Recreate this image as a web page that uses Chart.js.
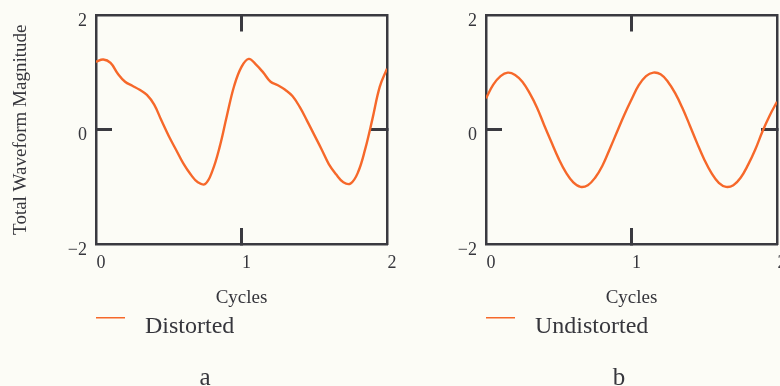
<!DOCTYPE html>
<html>
<head>
<meta charset="utf-8">
<script src="https://cdn.jsdelivr.net/npm/chart.js@4"></script>
<style>
  html, body { margin: 0; padding: 0; background: #fcfcf6; }
  #wrap { position: relative; width: 780px; height: 386px; overflow: hidden; }
  #chart-a { position: absolute; left: 0; top: 0; }
  #chart-b { position: absolute; left: 458px; top: 0; }
</style>
</head>
<body>
<div id="wrap">
  <canvas id="chart-a" width="410" height="386" style="width:410px;height:386px"></canvas>
  <canvas id="chart-b" width="322" height="386" style="width:322px;height:386px"></canvas>
</div>
<script>
const CYCLES = [0, 0.05, 0.1, 0.15, 0.2, 0.25, 0.3, 0.35, 0.4, 0.45, 0.5, 0.55, 0.6, 0.65, 0.7, 0.75, 0.8, 0.85, 0.9, 0.95,
  1, 1.05, 1.1, 1.15, 1.2, 1.25, 1.3, 1.35, 1.4, 1.45, 1.5, 1.55, 1.6, 1.65, 1.7, 1.75, 1.8, 1.85, 1.9, 1.95, 2];
const DISTORTED = [1.19, 1.23, 1.17, 0.98, 0.84, 0.77, 0.70, 0.61, 0.44, 0.16, -0.11, -0.35, -0.59, -0.78, -0.92, -0.95, -0.72, -0.30, 0.25, 0.77,
  1.10, 1.24, 1.14, 1.00, 0.84, 0.78, 0.70, 0.59, 0.40, 0.16, -0.09, -0.34, -0.60, -0.78, -0.92, -0.94, -0.75, -0.34, 0.19, 0.75, 1.07];
const UNDISTORTED = [0.55, 0.79, 0.94, 1.00, 0.96, 0.84, 0.64, 0.39, 0.08, -0.22, -0.51, -0.75, -0.92, -1.00, -0.97, -0.84, -0.63, -0.34, -0.04, 0.26,
  0.53, 0.78, 0.94, 1.00, 0.97, 0.84, 0.64, 0.38, 0.08, -0.23, -0.52, -0.76, -0.93, -1.00, -0.97, -0.84, -0.62, -0.35, -0.03, 0.25, 0.49];
const X_TICKS = [0, 1, 2];
const Y_TICKS = [-2, 0, 2];

const SERIF = "'Liberation Serif', 'Times New Roman', serif";
const INK = '#36363c';
const FRAME = '#3a3a40';
const ORANGE = '#f6682a';

// small picture used as legend marker: line sits near the top of the text
function legendLine(color) {
  const c = document.createElement('canvas');
  c.width = 43; c.height = 21;
  const g = c.getContext('2d');
  g.fillStyle = color;
  g.fillRect(0, 0, 29, 2);
  return c;
}

// pin the axis box size and drop the extra room chart.js keeps for edge labels
function fixSize(prop, value) {
  return (scale) => {
    scale[prop] = value;
    scale.paddingTop = 0; scale.paddingBottom = 0;
    scale.paddingLeft = 0; scale.paddingRight = 0;
  };
}

function tickLabel(v) {
  return v < 0 ? '\u2212' + Math.abs(v) : String(v);
}

function makePanel(id, name, values, caption, yTitle, leftW, rightW) {
  const points = CYCLES.map((x, i) => ({ x, y: values[i] }));
  const markColor = (mid) => (ctx) => ctx.tick && ctx.tick.value === mid ? FRAME : 'rgba(0,0,0,0)';
  return new Chart(document.getElementById(id), {
    type: 'line',
    data: {
      datasets: [{
        label: name,
        data: points,
        borderColor: ORANGE,
        backgroundColor: ORANGE,
        borderWidth: 2.4,
        pointRadius: 0,
        tension: 0.4,
      }],
    },
    options: {
      responsive: false,
      animation: false,
      layout: { padding: 0 },
      plugins: {
        tooltip: { enabled: false },
        legend: {
          position: 'bottom',
          align: 'start',
          fullSize: false,
          labels: {
            usePointStyle: true,
            pointStyle: legendLine(ORANGE),
            pointStyleWidth: 31,
            padding: 6,
            color: INK,
            font: { family: SERIF, size: 24 },
          },
        },
        title: {
          display: true,
          text: caption,
          position: 'bottom',
          color: INK,
          font: { family: SERIF, size: 25, weight: 'normal', lineHeight: 0.6 },
          padding: { top: 22, bottom: 0 },
        },
      },
      scales: {
        x: {
          type: 'linear', position: 'bottom', min: 0, max: 2,
          afterBuildTicks: (s) => { s.ticks = X_TICKS.map(v => ({ value: v })); },
          afterFit: fixSize('height', 65),
          border: { color: FRAME, width: 2.5 },
          grid: { drawOnChartArea: false, drawTicks: true, tickLength: -16, tickWidth: 3, tickColor: markColor(1) },
          ticks: { color: INK, font: { family: SERIF, size: 18 }, padding: 24, labelOffset: 5, maxRotation: 0, callback: tickLabel },
          title: { display: true, text: 'Cycles', color: INK, font: { family: SERIF, size: 19 }, padding: { top: 0, bottom: 0 } },
        },
        x2: {
          type: 'linear', position: 'top', min: 0, max: 2,
          afterBuildTicks: (s) => { s.ticks = X_TICKS.map(v => ({ value: v })); },
          afterFit: fixSize('height', 15.5),
          border: { color: FRAME, width: 2.5 },
          grid: { drawOnChartArea: false, drawTicks: true, tickLength: -16, tickWidth: 3, tickColor: markColor(1) },
          ticks: { display: false },
        },
        y: {
          type: 'linear', position: 'left', min: -2, max: 2,
          afterBuildTicks: (s) => { s.ticks = Y_TICKS.map(v => ({ value: v })); },
          afterFit: fixSize('width', leftW),
          border: { color: FRAME, width: 2.5 },
          grid: { drawOnChartArea: false, drawTicks: true, tickLength: -16, tickWidth: 3, tickColor: markColor(0) },
          ticks: { color: INK, font: { family: SERIF, size: 18 }, padding: 25, labelOffset: 6, callback: tickLabel },
          title: { display: !!yTitle, text: yTitle || '', color: INK, font: { family: SERIF, size: 19 }, padding: { top: 10, bottom: 0 } },
        },
        y2: {
          type: 'linear', position: 'right', min: -2, max: 2,
          afterBuildTicks: (s) => { s.ticks = Y_TICKS.map(v => ({ value: v })); },
          afterFit: fixSize('width', rightW),
          border: { color: FRAME, width: 2.5 },
          grid: { drawOnChartArea: false, drawTicks: true, tickLength: -16, tickWidth: 3, tickColor: markColor(0) },
          ticks: { display: false },
        },
      },
    },
  });
}

makePanel('chart-a', 'Distorted', DISTORTED, 'a', 'Total Waveform Magnitude', 96, 23);
makePanel('chart-b', 'Undistorted', UNDISTORTED, 'b', null, 28, 3);
</script>
</body>
</html>
